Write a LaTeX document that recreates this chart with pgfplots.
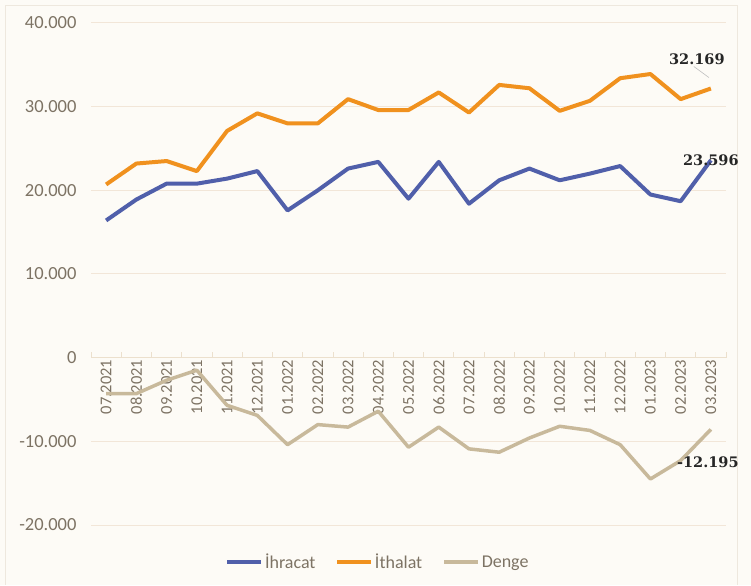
\documentclass[border=0pt]{standalone}
\usepackage{fontspec}
\setmainfont{Carlito}
\newfontfamily\labfont{DejaVu Serif}
\usepackage{pgfplots}
\pgfplotsset{compat=1.18}
\definecolor{bgc}{RGB}{253,251,246}
\definecolor{gridc}{RGB}{242,230,216}
\definecolor{axc}{RGB}{236,224,205}
\definecolor{txtc}{RGB}{125,115,100}
\definecolor{ihr}{RGB}{80,95,170}
\definecolor{ith}{RGB}{240,145,30}
\definecolor{den}{RGB}{200,185,155}
\definecolor{brd}{RGB}{238,232,222}
\begin{document}
\begin{tikzpicture}[x=1pt,y=1pt]
\fill[bgc] (0,0) rectangle (751,585);
\draw[brd, line width=1pt] (5,0) -- (5,579) -- (737,579) -- (737,0);
\begin{axis}[
  at={(91pt,60pt)}, anchor=south west,
  width=635pt, height=502pt, scale only axis,
  xmin=-0.5, xmax=20.5, ymin=-20000, ymax=40000,
  scaled y ticks=false,
  axis x line*=middle, axis y line*=left,
  x axis line style={-, draw=axc, line width=1pt},
  y axis line style={draw=none},
  xtick={0,...,20},
  xticklabels={07.2021,08.2021,09.2021,10.2021,11.2021,12.2021,01.2022,02.2022,03.2022,04.2022,05.2022,06.2022,07.2022,08.2022,09.2022,10.2022,11.2022,12.2022,01.2023,02.2023,03.2023},
  xticklabel style={rotate=90, anchor=east, font=\fontsize{16.5}{18}\selectfont, text=txtc, inner sep=2pt},
  extra x ticks={-0.5,0.5,...,20.5}, extra x tick labels={},
  extra x tick style={major tick length=6pt, tick style={draw=axc, line width=0.8pt}, xticklabel=\empty},
  major tick length=0pt,
  ytick={-20000,-10000,0,10000,20000,30000,40000},
  yticklabels={-20.000,-10.000,0,10.000,20.000,30.000,40.000},
  yticklabel style={anchor=east, font=\fontsize{18.5}{20}\selectfont, text=txtc, xshift=-11pt},
  ymajorgrids, grid style={draw=gridc, line width=1pt},
  legend style={at={(0.452,-0.074)}, anchor=center, draw=none, fill=none,
    font=\fontsize{18}{20}\selectfont, text=txtc, legend columns=3,
    /tikz/every even column/.append style={column sep=18pt}, inner sep=0pt},
  legend image code/.code={\draw[#1, line width=3.5pt] (0pt,0pt) -- (34pt,0pt);},
  clip=false,
]
\addplot[ihr, line width=4pt, line join=round] coordinates {
(0,16400)(1,18900)(2,20800)(3,20800)(4,21400)(5,22300)(6,17600)(7,20000)(8,22600)(9,23400)(10,19000)(11,23400)(12,18400)(13,21200)(14,22600)(15,21200)(16,22000)(17,22900)(18,19500)(19,18700)(20,23596)};
\addlegendentry{İhracat}
\addplot[ith, line width=4pt, line join=round] coordinates {
(0,20700)(1,23200)(2,23500)(3,22300)(4,27100)(5,29200)(6,28000)(7,28000)(8,30900)(9,29600)(10,29600)(11,31700)(12,29300)(13,32600)(14,32200)(15,29500)(16,30700)(17,33400)(18,33900)(19,30900)(20,32169)};
\addlegendentry{İthalat}
\addplot[den, line width=3.5pt, line join=round] coordinates {
(0,-4300)(1,-4300)(2,-2700)(3,-1500)(4,-5700)(5,-6900)(6,-10400)(7,-8000)(8,-8300)(9,-6400)(10,-10700)(11,-8300)(12,-10900)(13,-11300)(14,-9600)(15,-8200)(16,-8700)(17,-10400)(18,-14500)(19,-12300)(20,-8573)};
\addlegendentry{Denge}
\draw[gray!50, line width=0.6pt] (axis cs:20,32169) ++(-2pt,11pt) -- ++(-15pt,11pt);
\node[font=\labfont\bfseries\fontsize{14.5}{16}\selectfont, text=black!85, inner sep=0pt] at (axis cs:20,32169) [xshift=-14pt, yshift=29pt] {32.169};
\node[font=\labfont\bfseries\fontsize{14.5}{16}\selectfont, text=black!85, inner sep=0pt] at (axis cs:20,23596) [xshift=0pt, yshift=0pt] {23.596};
\node[font=\labfont\bfseries\fontsize{14.5}{16}\selectfont, text=black!85, inner sep=0pt] at (axis cs:20,-8573) [xshift=-3pt, yshift=-33pt] {-12.195};
\end{axis}
\end{tikzpicture}
\end{document}
